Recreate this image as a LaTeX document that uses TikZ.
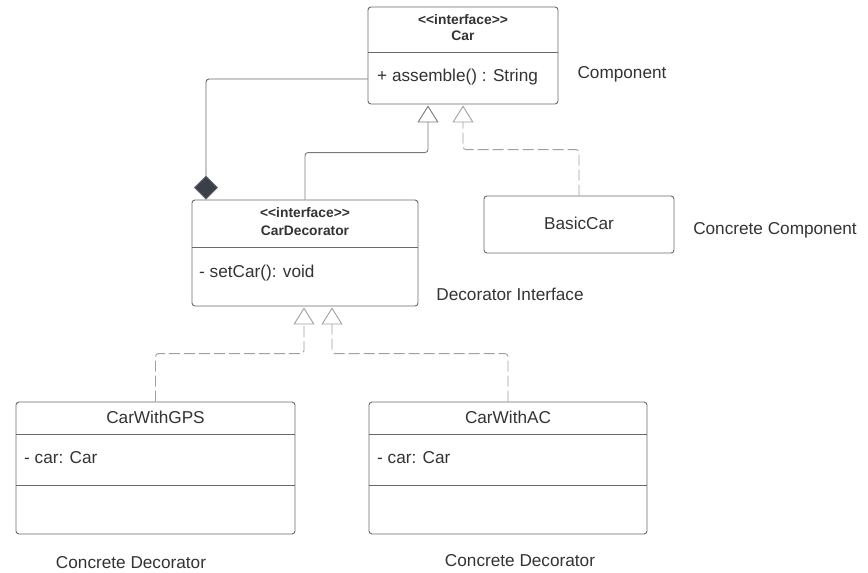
\documentclass[tikz,border=0pt]{standalone}
\usepackage{fontspec}
\setmainfont{Liberation Sans}
\usepackage{tikz}
\usetikzlibrary{arrows.meta}

\definecolor{boxline}{HTML}{6A6A6A}
\definecolor{txt}{HTML}{333333}
\definecolor{conn}{HTML}{7A7A7A}
\definecolor{dconn}{HTML}{A0A0A0}
\definecolor{diam}{HTML}{3B4048}

\begin{document}
\begin{tikzpicture}[x=1pt, y=-1pt, inner sep=0pt, text=txt]
    \tikzstyle{cls}=[rectangle, draw=boxline, line width=0.9pt, rounded corners=3pt, fill=white]
    \tikzstyle{sep}=[draw=boxline, line width=0.9pt]
    \tikzstyle{stereo}=[font=\fontsize{13.8}{15}\selectfont\bfseries]
    \tikzstyle{member}=[font=\fontsize{17.2}{19}\selectfont, anchor=west]
    \tikzstyle{title}=[font=\fontsize{17.2}{19}\selectfont]
    \tikzstyle{role}=[font=\fontsize{17.2}{19}\selectfont]
    \tikzstyle{gen}=[-{Triangle[open, length=17pt, width=21pt]}, draw=conn, line width=0.9pt, rounded corners=3pt, shorten >=1pt]
    \tikzstyle{real}=[gen, draw=dconn, dash pattern=on 11pt off 4pt]
    \tikzstyle{comp}=[-{Diamond[length=24pt, width=24pt, fill=diam]}, draw=diam!80!white, line width=0.9pt, rounded corners=3pt]

    \useasboundingbox (0,0) rectangle (868,573);

    % classes
    \node[cls, minimum width=190pt, minimum height=97pt] (car) at (463,55.5) {};
    \node[cls, minimum width=226pt, minimum height=106pt] (dec) at (305,253) {};
    \node[cls, minimum width=190pt, minimum height=57pt] (basic) at (579,224.5) {};
    \node[cls, minimum width=279pt, minimum height=132pt] (gps) at (155.5,468) {};
    \node[cls, minimum width=278pt, minimum height=132pt] (ac) at (508,468) {};

    \draw[sep] (car.west |- 0,52) -- (car.east |- 0,52);
    \draw[sep] (dec.west |- 0,247) -- (dec.east |- 0,247);
    \draw[sep] (gps.west |- 0,434) -- (gps.east |- 0,434);
    \draw[sep] (gps.west |- 0,485) -- (gps.east |- 0,485);
    \draw[sep] (ac.west |- 0,434) -- (ac.east |- 0,434);
    \draw[sep] (ac.west |- 0,485) -- (ac.east |- 0,485);

    % class texts
    \node[stereo] (carst) at (463,20) {<{}<interface>{}>};
    \node[stereo] (carname) at (463,36) {Car};
    \node[member] (carop) at (377,77) {+ assemble() : String};
    \node[stereo] (decst) at (305,213) {<{}<interface>{}>};
    \node[stereo] (decname) at (305,231) {CarDecorator};
    \node[member] (decop) at (199,273) {- setCar(): void};
    \node[title] (basicname) at (579,223) {BasicCar};
    \node[title] (gpsname) at (155.5,417) {CarWithGPS};
    \node[member] (gpsattr) at (24,458) {- car: Car};
    \node[title] (acname) at (508,417) {CarWithAC};
    \node[member] (acattr) at (377,458) {- car: Car};

    % roles
    \node[role] (rcomp) at (622,74) {Component};
    \node[role] (rbasic) at (775,230) {Concrete Component};
    \node[role] (rdec) at (510,294) {Decorator Interface};
    \node[role] (rgps) at (131,563) {Concrete Decorator};
    \node[role] (rac) at (520,561) {Concrete Decorator};

    % relations
    \draw[comp] ([yshift=-23.5pt]car.west) -| ([xshift=-99pt]dec.north);
    \draw[gen] (dec.north) -- ++(0,-47) -| ([xshift=-35pt]car.south);
    \draw[real] (basic.north) -- ++(0,-46) -| (car.south);
    \draw[real] (gps.north) -- ++(0,-48) -| ([xshift=-1pt]dec.south);
    \draw[real] (ac.north) -- ++(0,-48) -| ([xshift=27pt]dec.south);
\end{tikzpicture}
\end{document}
